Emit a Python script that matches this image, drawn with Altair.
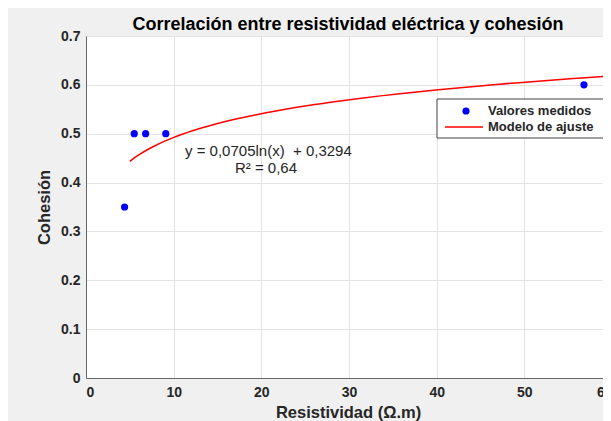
import altair as alt
import pandas as pd

# ---- data ----
resistividad = [4.4, 5.5, 6.8, 9.1, 56.8]
cohesion = [0.35, 0.50, 0.50, 0.50, 0.60]
x_dominio = [0, 60]
y_dominio = [0, 0.7]
x_ticks = [0, 10, 20, 30, 40, 50, 60]
y_ticks = [0, 0.1, 0.2, 0.3, 0.4, 0.5, 0.6, 0.7]
ajuste_extent = [5, 60]
titulo = "Correlación entre resistividad eléctrica y cohesión"
x_titulo = "Resistividad (Ω.m)"
y_titulo = "Cohesión"
ecuacion = "y = 0,0705ln(x) \u00a0+ 0,3294"
r2 = "R² = 0,64"
leyenda = ["Valores medidos", "Modelo de ajuste"]

FONT = "Liberation Sans"
df = pd.DataFrame({"Resistividad": resistividad, "Cohesion": cohesion})

x_enc = alt.X(
    "Resistividad:Q",
    scale=alt.Scale(domain=x_dominio, nice=False, zero=False, range=[0, 526]),
    axis=alt.Axis(values=x_ticks, title=x_titulo, format="d",
                  titleX=262, titleY=39, titleBaseline="alphabetic", labelPadding=7),
)
y_enc = alt.Y(
    "Cohesion:Q",
    scale=alt.Scale(domain=y_dominio, nice=False, zero=False),
    axis=alt.Axis(values=y_ticks, title=y_titulo, format=".1~f",
                  titleX=-42, titleY=171, titleBaseline="middle",
                  titleAlign="center", labelPadding=6),
)

puntos = alt.Chart(df).mark_circle(color="#0000ff", size=52, opacity=1).encode(x=x_enc, y=y_enc)

ajuste = (
    alt.Chart(df)
    .transform_regression("Resistividad", "Cohesion", method="log", extent=ajuste_extent)
    .mark_line(color="#ff0000", strokeWidth=1.5)
    .encode(x="Resistividad:Q", y="Cohesion:Q")
)

def texto(t, x, y, size, weight="normal", align="left", baseline="middle", color="#262626"):
    return alt.Chart(pd.DataFrame({"t": [t]})).mark_text(
        font=FONT, fontSize=size, fontWeight=weight, align=align,
        baseline=baseline, color=color
    ).encode(x=alt.value(x), y=alt.value(y), text="t:N")

titulo_t = texto(titulo, 262, -6, 18, weight="bold", align="center",
                 baseline="alphabetic", color="#000000")
eq1 = texto(ecuacion, 99, 115, 15)
eq2 = texto(r2, 180, 132, 15, align="center")

uno = pd.DataFrame({"k": [0]})
caja = alt.Chart(uno).mark_rect(fill="white", stroke="#404040", strokeWidth=1).encode(
    x=alt.value(351), x2=alt.value(518), y=alt.value(63), y2=alt.value(102)
)
ley_punto = alt.Chart(uno).mark_circle(color="#0000ff", size=52, opacity=1).encode(
    x=alt.value(380), y=alt.value(75)
)
ley_linea = alt.Chart(uno).mark_rule(color="#ff0000", strokeWidth=1.5).encode(
    x=alt.value(359), x2=alt.value(397), y=alt.value(91)
)
ley_t1 = texto(leyenda[0], 402, 75, 13, weight="bold")
ley_t2 = texto(leyenda[1], 402, 91, 13, weight="bold")

chart = (
    alt.layer(ajuste, puntos, titulo_t, eq1, eq2, caja, ley_punto, ley_linea, ley_t1, ley_t2)
    .properties(
        width=517,
        height=342,
        padding={"left": 78, "top": 28, "right": 0, "bottom": 43},
        autosize=alt.AutoSizeParams(type="none"),
        background="#f0f0f0",
    )
    .configure_view(fill="white", strokeWidth=0)
    .configure_axis(
        labelFont=FONT, labelFontSize=14, labelFontWeight="bold", labelColor="#262626",
        titleFont=FONT, titleFontSize=16.5, titleFontWeight="bold", titleColor="#262626",
        ticks=False, domainColor="#666666", domainWidth=1,
        gridColor="#e3e3e3", gridWidth=1,
    )
)

chart.save("out.html", embed_options={"renderer": "svg", "actions": False})
